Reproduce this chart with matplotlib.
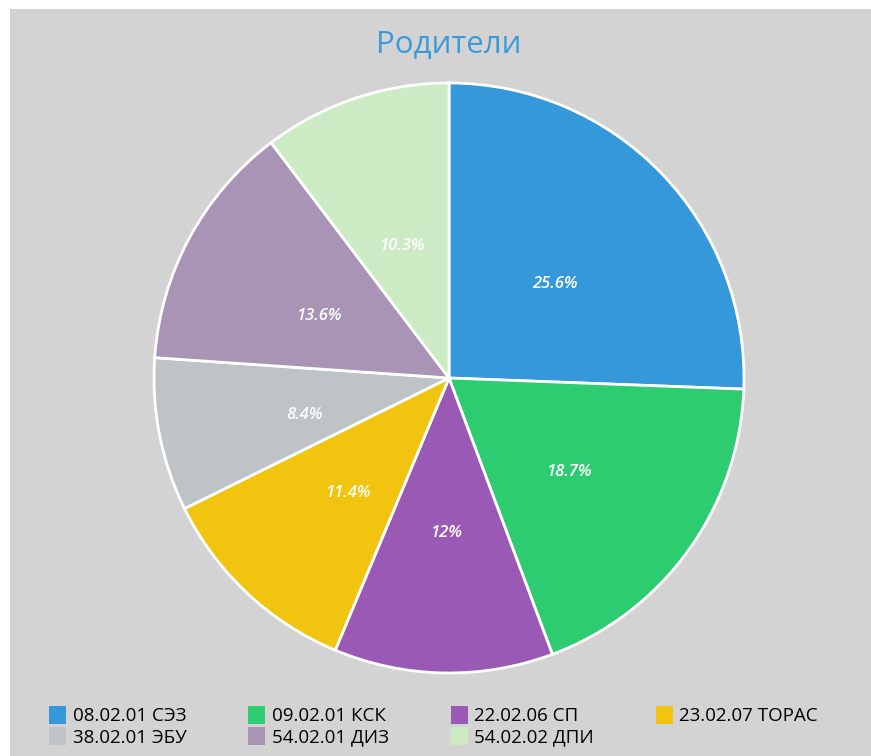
import matplotlib.pyplot as plt
import numpy as np
from matplotlib.patches import Rectangle, Patch

# данные диаграммы
labels = ['08.02.01 СЭЗ', '09.02.01 КСК', '22.02.06 СП', '23.02.07 ТОРАС',
          '38.02.01 ЭБУ', '54.02.01 ДИЗ', '54.02.02 ДПИ']
values = [25.6, 18.7, 12, 11.4, 8.4, 13.6, 10.3]
pct_text = ['25.6%', '18.7%', '12%', '11.4%', '8.4%', '13.6%', '10.3%']
colors = ['#3498db', '#2ecc71', '#9b59b6', '#f1c40f',
          '#bdc3c7', '#a994b5', '#ccebc4']

plt.rcParams['font.family'] = ['Open Sans', 'DejaVu Sans']

W, H = 871, 756
fig = plt.figure(figsize=(W / 100, H / 100), dpi=100, facecolor='white')
# серый фон с белой полосой сверху и слева
fig.patches.append(Rectangle((10 / W, 0), 1 - 10 / W, (H - 9) / H,
                             transform=fig.transFigure, facecolor='#d3d3d3',
                             edgecolor='none', zorder=-10))

cx, cy, r = 449, 378, 295
ax = fig.add_axes([(cx - r) / W, (H - cy - r) / H, 2 * r / W, 2 * r / H])
ax.set_facecolor('none')
ax.set_zorder(5)

wedges, _ = ax.pie(values, colors=colors, startangle=90, counterclock=False,
                   radius=1.0, wedgeprops=dict(edgecolor='white', linewidth=2))
ax.set_xlim(-1.0, 1.0)
ax.set_ylim(-1.0, 1.0)
ax.set_aspect('equal')
ax.axis('off')

# подписи чуть ниже середины радиуса, как в исходнике
for w, t in zip(wedges, pct_text):
    ang = np.deg2rad((w.theta1 + w.theta2) / 2)
    ax.text(0.5 * np.cos(ang), 0.5 * np.sin(ang) - 0.027, t, ha='center',
            va='center', color='white', fontsize=12, fontstyle='italic',
            fontweight='semibold')

fig.text(cx / W, 1 - 44 / H, 'Родители', ha='center', va='center',
         fontsize=22.5, color='#3d9ad9')

# порядок по строкам: matplotlib заполняет легенду по столбцам
order = [0, 4, 1, 5, 2, 6, 3]
handles = [Patch(facecolor=colors[i], edgecolor='none') for i in order]
leg = fig.legend(handles, [labels[i] for i in order], ncol=4, loc='lower left',
                 bbox_to_anchor=(40 / W, 0.0), frameon=False, fontsize=13.5,
                 handlelength=0.9, handleheight=1.1, handletextpad=0.35,
                 columnspacing=3.3, labelspacing=0.1, borderaxespad=0.1)
leg.set_zorder(6)

fig.savefig('out.png', dpi=100, facecolor=fig.get_facecolor())
